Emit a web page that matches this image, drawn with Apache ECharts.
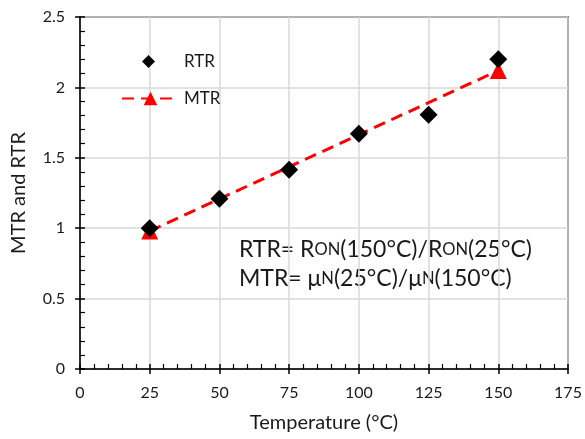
<!DOCTYPE html>
<html>
<head>
<meta charset="utf-8">
<script src="https://cdn.jsdelivr.net/npm/echarts@6/dist/echarts.min.js"></script>
<style>
  html, body { margin: 0; padding: 0; background: #fff; }
  #main { width: 585px; height: 439px; }
</style>
</head>
<body>
<div id="main"></div>
<script>
const chartDom = document.getElementById('main');
const myChart = echarts.init(chartDom);

// RTR measurements
let tempRTR = [25, 50, 75, 100, 125, 150];
let rtr = [1.0, 1.21, 1.415, 1.67, 1.805, 2.2];
// MTR (two points joined by a dashed line)
let tempMTR = [25, 150];
let mtr = [0.98, 2.12];

const font = 'Lato';
const ink = '#1a1a1a';

let option = {
    backgroundColor: '#fff',
    textStyle: { fontFamily: font },
    grid: {
        left: 80,
        top: 17,
        width: 488,
        height: 352,
        show: true,
        borderColor: '#000',
        borderWidth: 1.5
    },
    // two legends so the diamond keeps its shape
    legend: [
        {
            left: 137,
            top: 48,
            itemWidth: 13,
            itemHeight: 13,
            textStyle: { fontFamily: font, fontSize: 17, color: ink, padding: [0, 0, 0, 24] },
            data: ['RTR']
        },
        {
            left: 116,
            top: 85,
            itemWidth: 57,
            itemHeight: 17,
            textStyle: { fontFamily: font, fontSize: 17, color: ink },
            data: ['MTR']
        }
    ],
    xAxis: [
        {
            type: 'value',
            min: 0,
            max: 175,
            interval: 25,
            name: 'Temperature (°C)',
            nameLocation: 'middle',
            nameGap: 44,
            nameTextStyle: { fontFamily: font, fontSize: 20, color: ink },
            axisLine: { lineStyle: { color: '#000', width: 1.5 } },
            axisTick: { inside: true, length: 5, lineStyle: { color: '#000', width: 1.5 } },
            minorTick: { show: true, splitNumber: 5, length: 5, lineStyle: { color: '#000', width: 1.2 } },
            axisLabel: { fontFamily: font, fontSize: 16, color: ink, margin: 16 },
            splitLine: { lineStyle: { color: '#d9d9d9', width: 1.5 } }
        },
        {
            type: 'value',
            min: 0,
            max: 175,
            interval: 25,
            position: 'bottom',
            axisLine: { show: false },
            axisTick: { inside: false, length: 5, lineStyle: { color: '#000', width: 1.5 } },
            axisLabel: { show: false },
            splitLine: { show: false }
        }
    ],
    yAxis: [
        {
            type: 'value',
            min: 0,
            max: 2.5,
            interval: 0.5,
            name: 'MTR and RTR',
            nameLocation: 'middle',
            nameGap: 51,
            nameTextStyle: { fontFamily: font, fontSize: 20, color: ink },
            axisLine: { show: true, lineStyle: { color: '#000', width: 1.5 } },
            axisTick: { show: true, inside: true, length: 5, lineStyle: { color: '#000', width: 1.5 } },
            minorTick: { show: true, splitNumber: 5, length: 5, lineStyle: { color: '#000', width: 1.2 } },
            axisLabel: { fontFamily: font, fontSize: 16, color: ink, margin: 15 },
            splitLine: { lineStyle: { color: '#d9d9d9', width: 1.5 } }
        },
        {
            type: 'value',
            min: 0,
            max: 2.5,
            interval: 0.5,
            position: 'left',
            axisLine: { show: false },
            axisTick: { show: true, inside: false, length: 5, lineStyle: { color: '#000', width: 1.5 } },
            axisLabel: { show: false },
            splitLine: { show: false }
        }
    ],
    graphic: [
        {
            type: 'text',
            left: 239,
            top: 238,
            style: {
                text: '{n|RTR= R}{s|ON}{n|(150°C)/R}{s|ON}{n|(25°C)}\n{n|MTR= μ}{s|N}{n|(25°C)/μ}{s|N}{n|(150°C)}',
                rich: {
                    n: { fontFamily: font, fontSize: 23, lineHeight: 29, fill: ink },
                    s: { fontFamily: font, fontSize: 16.5, lineHeight: 29, fill: ink }
                }
            }
        }
    ],
    series: [
        {
            name: 'MTR',
            type: 'line',
            z: 2,
            symbol: 'triangle',
            symbolSize: 17,
            itemStyle: { color: '#ff0000' },
            lineStyle: { color: '#ff0000', width: 3, type: [12, 7] },
            data: tempMTR.map((t, i) => [t, mtr[i]])
        },
        {
            name: 'RTR',
            type: 'scatter',
            z: 3,
            symbol: 'diamond',
            symbolSize: 18,
            itemStyle: { color: '#000', opacity: 1 },
            data: tempRTR.map((t, i) => [t, rtr[i]])
        }
    ]
};

myChart.setOption(option);
</script>
</body>
</html>
